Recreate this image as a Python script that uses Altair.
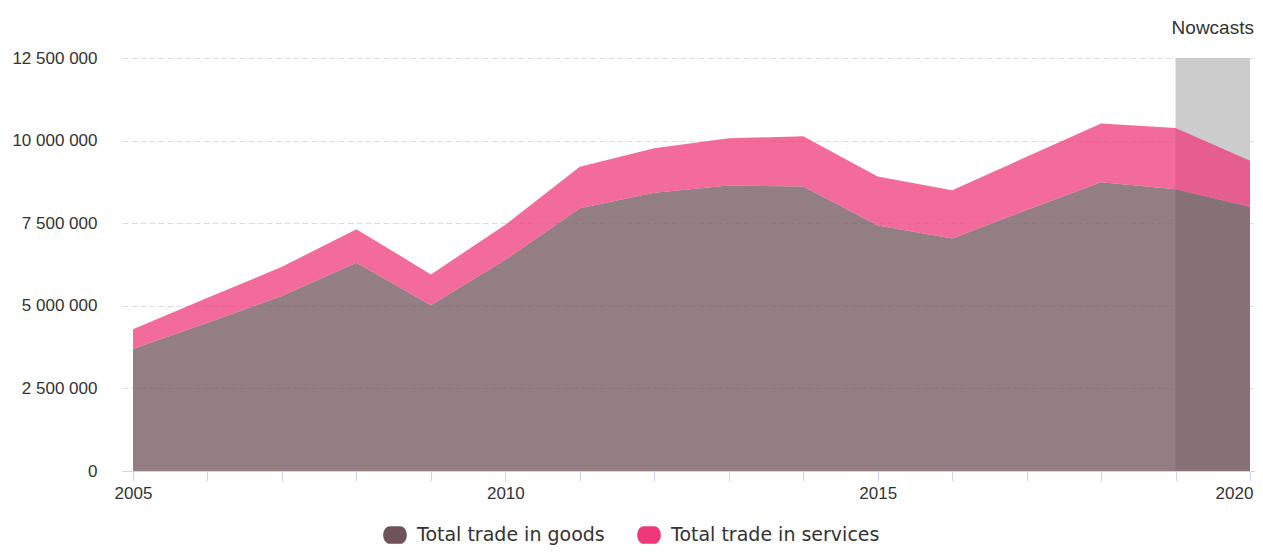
import altair as alt
import pandas as pd

years = list(range(2005, 2021))
goods = [3.69, 4.49, 5.30, 6.30, 5.02, 6.39, 7.95, 8.42, 8.64, 8.61, 7.43, 7.04, 7.90, 8.74, 8.53, 8.00]
services = [0.60, 0.75, 0.88, 1.02, 0.93, 1.06, 1.26, 1.35, 1.43, 1.52, 1.48, 1.46, 1.61, 1.78, 1.85, 1.39]
series_names = ["Total trade in goods", "Total trade in services"]
series_colors = ["#6e535a", "#ee3a7a"]
nowcast_start, nowcast_end = 2019, 2020
y_max = 12500000

rows = []
for i, y in enumerate(years):
    rows.append({"year": y, "series": series_names[0], "value": goods[i] * 1e6, "ord": 0})
    rows.append({"year": y, "series": series_names[1], "value": services[i] * 1e6, "ord": 1})
df = pd.DataFrame(rows)

xscale = alt.Scale(domain=[2004.852, 2020.067], nice=False, zero=False)
yscale = alt.Scale(domain=[0, y_max], nice=False)

band_df = pd.DataFrame({"x": [nowcast_start], "x2": [nowcast_end], "y": [0], "y2": [y_max]})
band = alt.Chart(band_df).mark_rect(color="#cccccc").encode(
    x=alt.X("x:Q", scale=xscale,
            axis=alt.Axis(values=years, labelExpr="datum.value % 5 == 0 ? format(datum.value, 'd') : ''",
                          title=None, grid=False, domainColor="#ccd6eb", tickColor="#ccd6eb",
                          tickSize=10, labelPadding=4, labelFont="Liberation Sans", labelFontSize=17,
                          labelColor="#333333", labelFlush=False, labelOverlap=False,
                          labelOffset={"condition": {"test": "datum.value == 2020", "value": -16}, "value": 0})),
    x2="x2:Q",
    y=alt.Y("y:Q", scale=yscale,
            axis=alt.Axis(values=[0, 2500000, 5000000, 7500000, 10000000, 12500000],
                          labelExpr="replace(replace(format(datum.value, ','), ',', ' '), ',', ' ')",
                          title=None, domain=False, ticks=False, labelPadding=25,
                          labelFont="Liberation Sans", labelFontSize=17, labelColor="#333333",
                          gridColor="#dddddd", gridDash=[6, 3], gridWidth=1)),
    y2="y2:Q",
)

area = alt.Chart(df).mark_area(opacity=0.75, line=False).encode(
    x=alt.X("year:Q", scale=xscale),
    y=alt.Y("value:Q", scale=yscale, stack="zero"),
    color=alt.Color("series:N",
                    scale=alt.Scale(domain=series_names, range=series_colors),
                    legend=alt.Legend(title=None, orient="none", direction="horizontal",
                                      legendX=261, legendY=465, padding=0,
                                      symbolType="M-0.45,-0.75 L0.45,-0.75 A0.55,0.75 0 0 1 0.45,0.75 L-0.45,0.75 A0.55,0.75 0 0 1 -0.45,-0.75 Z",
                                      symbolSize=560, symbolOpacity=1, symbolStrokeWidth=0,
                                      labelFont="DejaVu Sans", labelFontSize=19, labelColor="#333333",
                                      labelOffset=10, columnPadding=32, labelLimit=400)),
    order=alt.Order("ord:Q"),
)

label_df = pd.DataFrame({"x": [(nowcast_start + nowcast_end) / 2], "y": [y_max], "t": ["Nowcasts"]})
label = alt.Chart(label_df).mark_text(font="Liberation Sans", fontSize=19, color="#333333",
                                      dy=-30, align="center", baseline="middle").encode(
    x=alt.X("x:Q", scale=xscale), y=alt.Y("y:Q", scale=yscale), text="t:N")

chart = alt.layer(band, area, label).properties(
    width=1133, height=413,
    autosize=alt.AutoSizeParams(type="none"),
    padding={"left": 114, "top": 50, "right": 0, "bottom": 75},
).configure_view(stroke=None)

chart.save("out.html", embed_options={"renderer": "svg", "actions": False})
